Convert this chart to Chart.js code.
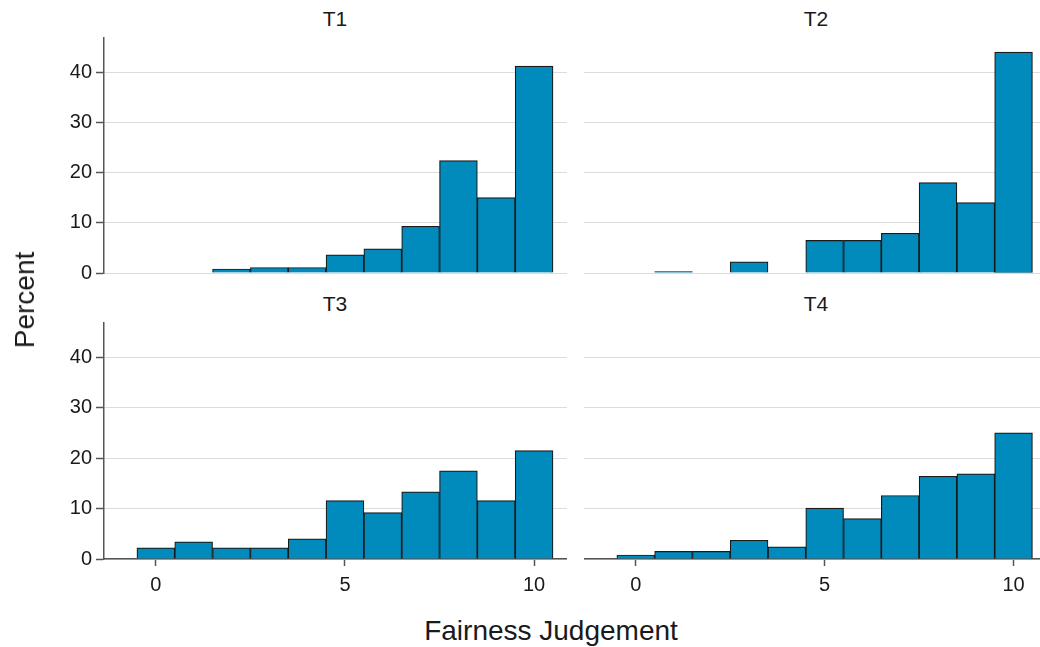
<!DOCTYPE html>
<html>
<head>
<meta charset="utf-8">
<script src="https://cdn.jsdelivr.net/npm/chart.js@4.4.0/dist/chart.umd.min.js"></script>
<style>
  body { margin: 0; background: #fff; font-family: "Liberation Sans", Arial, sans-serif; }
  #wrap { position: relative; width: 1040px; height: 647px; overflow: hidden; }
  canvas { position: absolute; }
  .lbl { position: absolute; color: #1a1a1a; white-space: nowrap; }
  .ttl { font-size: 21px; transform: translateX(-50%); }
</style>
</head>
<body>
<div id="wrap">
  <canvas id="c1" width="527" height="250" style="left:40px;top:37px"></canvas>
  <canvas id="c2" width="456" height="250" style="left:584px;top:37px"></canvas>
  <canvas id="c3" width="527" height="290" style="left:40px;top:322px"></canvas>
  <canvas id="c4" width="456" height="290" style="left:584px;top:322px"></canvas>

  <div class="lbl ttl" style="left:335px;top:7px">T1</div>
  <div class="lbl ttl" style="left:816px;top:7px">T2</div>
  <div class="lbl ttl" style="left:335px;top:292px">T3</div>
  <div class="lbl ttl" style="left:816px;top:292px">T4</div>

  <div class="lbl" style="left:25px;top:300px;font-size:28px;transform:translate(-50%,-50%) rotate(-90deg)">Percent</div>
  <div class="lbl" style="left:551px;top:631px;font-size:28px;transform:translate(-50%,-50%)">Fairness Judgement</div>
</div>
<script>
// score bins (0-10) and percentage per bin, by treatment
const bins = [0, 1, 2, 3, 4, 5, 6, 7, 8, 9, 10];
const t1 = [0, 0, 0.8, 1.1, 1.1, 3.6, 4.8, 9.3, 22.4, 15.0, 41.2];
const t2 = [0, 0.3, 0, 2.2, 0, 6.5, 6.5, 7.9, 18.0, 14.0, 44.0];
const t3 = [2.2, 3.4, 2.2, 2.2, 4.0, 11.6, 9.2, 13.3, 17.5, 11.6, 21.5];
const t4 = [0.8, 1.5, 1.5, 3.7, 2.4, 10.1, 8.0, 12.6, 16.4, 16.9, 25.0];
const yTicks = [0, 10, 20, 30, 40];
const xTicks = [0, 5, 10];

const BAR = '#008bbc';
const AXIS = '#555555';

function makeChart(id, vals, showY, showX, xMax) {
    const yW = showY ? 64 : 0;
    const xH = showX ? 53 : 14;
    return new Chart(document.getElementById(id), {
        type: 'bar',
        data: {
            datasets: [{
                data: bins.map((b, i) => ({ x: b, y: vals[i] > 0 ? vals[i] : null })),
                backgroundColor: BAR,
                borderColor: '#1a1a1a',
                borderWidth: 1.2,
                borderSkipped: 'start',
                barPercentage: 1,
                categoryPercentage: 1
            }]
        },
        options: {
            responsive: false,
            animation: false,
            layout: { padding: 0, autoPadding: false },
            plugins: { legend: { display: false }, tooltip: { enabled: false } },
            scales: {
                x: {
                    type: 'linear',
                    min: -1.37,
                    max: xMax,
                    offset: false,
                    afterBuildTicks: s => { s.ticks = xTicks.map(v => ({ value: v })); },
                    afterFit: s => {
                        s.height = xH;
                        s.paddingLeft = 0; s.paddingRight = 0;
                        s.paddingTop = 0; s.paddingBottom = 0;
                    },
                    ticks: {
                        display: showX,
                        font: { family: 'Liberation Sans', size: 20 },
                        color: '#1a1a1a',
                        padding: 7,
                        maxRotation: 0
                    },
                    grid: {
                        offset: false,
                        drawOnChartArea: false,
                        drawTicks: showX,
                        tickLength: 7,
                        tickColor: AXIS,
                        tickWidth: 1.5
                    },
                    border: { display: showX, color: AXIS, width: 1.5 }
                },
                y: {
                    min: 0,
                    max: 47,
                    afterBuildTicks: s => { s.ticks = yTicks.map(v => ({ value: v })); },
                    afterFit: s => {
                        s.width = yW;
                        s.paddingLeft = 0; s.paddingRight = 0;
                        s.paddingTop = 0; s.paddingBottom = 0;
                    },
                    ticks: {
                        display: showY,
                        font: { family: 'Liberation Sans', size: 20 },
                        color: '#1a1a1a',
                        padding: 4
                    },
                    grid: {
                        color: '#dcdcdc',
                        lineWidth: 1,
                        drawTicks: showY,
                        tickLength: 8,
                        tickColor: AXIS,
                        tickWidth: 1.5
                    },
                    border: { display: showY, color: AXIS, width: 1.5 }
                }
            }
        }
    });
}

makeChart('c1', t1, true, false, 10.87);
makeChart('c2', t2, false, false, 10.7);
makeChart('c3', t3, true, true, 10.87);
makeChart('c4', t4, false, true, 10.7);
</script>
</body>
</html>
